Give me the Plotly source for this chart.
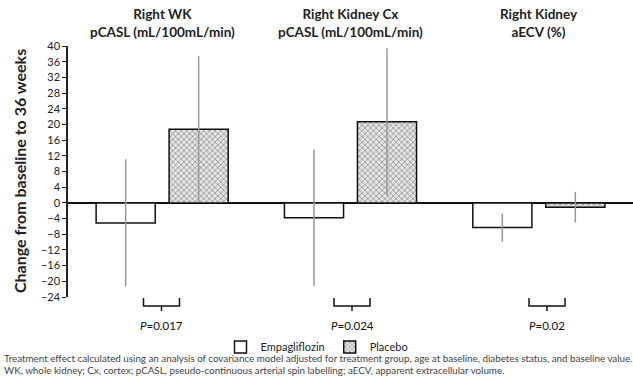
import plotly.graph_objects as go

categories = ["Right WK pCASL", "Right Kidney Cx pCASL", "Right Kidney aECV"]
group_titles = ["<b>Right WK</b><br><b>pCASL (mL/100mL/min)</b>",
                "<b>Right Kidney Cx</b><br><b>pCASL (mL/100mL/min)</b>",
                "<b>Right Kidney</b><br><b>aECV (%)</b>"]
empa_values = [-5.1, -3.8, -6.3]
empa_errors = [16.2, 17.4, 3.6]
placebo_values = [18.8, 20.7, -1.1]
placebo_errors = [18.6, 18.7, 3.9]
p_values = ["<i>P</i>=0.017", "<i>P</i>=0.024", "<i>P</i>=0.02"]
y_ticks = list(range(-24, 41, 4))
footnote1 = ("Treatment effect calculated using an analysis of covariance model adjusted for treatment group, "
             "age at baseline, diabetes status, and baseline value.")
footnote2 = ("WK, whole kidney; Cx, cortex; pCASL, pseudo-continuous arterial spin labelling; "
             "aECV, apparent extracellular volume.")

FONT = "Lato"

fig = go.Figure()
fig.add_trace(go.Bar(
    x=categories, y=empa_values, name="Empagliflozin",
    marker=dict(color="white", line=dict(color="#111", width=1.5)),
    error_y=dict(type="data", array=empa_errors, visible=True,
                 color="#999", thickness=1.5, width=0),
))
fig.add_trace(go.Bar(
    x=categories, y=placebo_values, name="Placebo",
    marker=dict(color="white", line=dict(color="#111", width=1.5),
                pattern=dict(shape="x", size=4, solidity=0.4,
                             fgcolor="#555", bgcolor="#e4e4e4")),
    error_y=dict(type="data", array=placebo_errors, visible=True,
                 color="#999", thickness=1.5, width=0),
))

L, T, W, H = 68, 46, 633, 382
PW = W - L
PH = 297 - T

def px_x(p):
    return (p - L) / PW

def px_y(p):
    return (297 - p) / PH

annotations = []
centers = [1 / 6, 0.5, 5 / 6]
for c, t in zip(centers, group_titles):
    annotations.append(dict(x=c, y=px_y(23), xref="paper", yref="paper", text=t,
                            showarrow=False, xanchor="center", yanchor="middle",
                            font=dict(family=FONT, size=13.5, color="#222")))

bracket_centers = [px_x(161.5), px_x(352), px_x(547)]
shapes = []
hw = 18 / PW
for c, p in zip(bracket_centers, p_values):
    y0, yh, yb = px_y(298), px_y(306), px_y(311)
    path = (f"M{c-hw},{y0} L{c-hw},{yh} L{c+hw},{yh} L{c+hw},{y0} "
            f"M{c},{yh} L{c},{yb}")
    shapes.append(dict(type="path", xref="paper", yref="paper", path=path,
                       line=dict(color="#111", width=1.5)))
    annotations.append(dict(x=c, y=px_y(325), xref="paper", yref="paper", text=p,
                            showarrow=False, xanchor="center", yanchor="middle",
                            font=dict(family=FONT, size=11.5, color="#111")))

annotations.append(dict(x=px_x(19), y=px_y(171), xref="paper", yref="paper",
                        text="<b>Change from baseline to 36 weeks</b>", textangle=-90,
                        showarrow=False, xanchor="center", yanchor="middle",
                        font=dict(family=FONT, size=16, color="#222")))
annotations.append(dict(x=px_x(2), y=px_y(358), xref="paper", yref="paper",
                        text=footnote1, showarrow=False, xanchor="left", yanchor="middle",
                        font=dict(family=FONT, size=9.8, color="#444")))
annotations.append(dict(x=px_x(2), y=px_y(370), xref="paper", yref="paper",
                        text=footnote2, showarrow=False, xanchor="left", yanchor="middle",
                        font=dict(family=FONT, size=9.8, color="#444")))

fig.update_layout(
    width=W, height=H,
    margin=dict(l=L, r=0, t=T, b=H - 297, autoexpand=False),
    paper_bgcolor="white", plot_bgcolor="white",
    barmode="group", bargap=0.225, bargroupgap=0.19,
    showlegend=True,
    legend=dict(orientation="h", xref="container", yref="container",
                x=317 / W, xanchor="center",
                y=1 - 347 / H, yanchor="middle",
                font=dict(family=FONT, size=11, color="#222"),
                bgcolor="rgba(0,0,0,0)"),
    annotations=annotations, shapes=shapes,
    font=dict(family=FONT, color="#222"),
)
fig.update_xaxes(showticklabels=False, showline=False, ticks="", showgrid=False,
                 zeroline=False)
fig.update_yaxes(range=[-24, 40], tickvals=y_ticks, showgrid=False,
                 showline=True, linecolor="#222", linewidth=1.5,
                 ticks="outside", ticklen=4, tickcolor="#222",
                 zeroline=True, zerolinecolor="#111", zerolinewidth=2,
                 tickfont=dict(family=FONT, size=11, color="#222"))

fig.write_html("out.html", config={"displayModeBar": False},
               post_script="document.body.style.margin='0';document.body.style.overflow='hidden';")
